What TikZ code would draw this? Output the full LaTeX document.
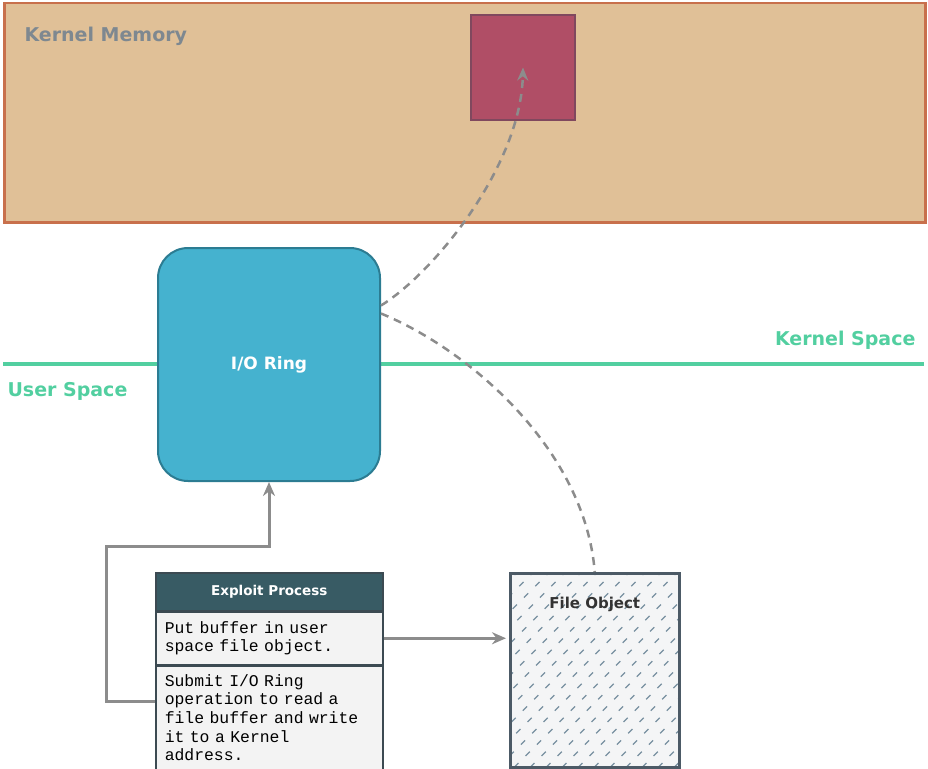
\documentclass[tikz,border=0pt]{standalone}
\usepackage{fontspec}
\setmainfont{DejaVu Sans}
\setmonofont{Liberation Mono}
\usetikzlibrary{arrows.meta,positioning}
\definecolor{memfill}{HTML}{E0C097}
\definecolor{memedge}{HTML}{C8704C}
\definecolor{memtext}{HTML}{7E8890}
\definecolor{addrfill}{HTML}{B04E66}
\definecolor{addredge}{HTML}{80485E}
\definecolor{spacegreen}{HTML}{52CFA0}
\definecolor{ringfill}{HTML}{45B2CF}
\definecolor{ringedge}{HTML}{2C7C92}
\definecolor{procfill}{HTML}{385B64}
\definecolor{cellfill}{HTML}{F3F3F3}
\definecolor{celledge}{HTML}{3C4A52}
\definecolor{objfill}{HTML}{F4F5F6}
\definecolor{objedge}{HTML}{4C5A66}
\definecolor{hatchcol}{HTML}{7890A0}
\definecolor{arrowgrey}{HTML}{8C8C8C}
\tikzset{region/.style={draw=memedge,fill=memfill,line width=2.5pt,inner sep=0pt,
        minimum width=921pt,minimum height=219pt},
        memlabel/.style={text=memtext,font=\bfseries\fontsize{19}{22}\selectfont},
        target/.style={draw=addredge,fill=addrfill,line width=2pt,inner sep=0pt,
        minimum width=104pt,minimum height=105pt},
        boundary/.style={draw=spacegreen,line width=4pt},
        spacelbl/.style={text=spacegreen,font=\bfseries\fontsize{19}{22}\selectfont},
        ring/.style={draw=ringedge,fill=ringfill,line width=2pt,rounded corners=30pt,
        minimum width=222pt,minimum height=233pt,text=white,
        font=\bfseries\fontsize{17}{20}\selectfont},
        header/.style={draw=celledge,fill=procfill,line width=1.5pt,minimum width=227pt,
        minimum height=38pt,text=white,font=\bfseries\fontsize{13.5}{16}\selectfont},
        cell/.style={draw=celledge,fill=cellfill,line width=1.5pt,inner xsep=9pt,
        text width=209pt,align=left,font=\ttfamily\fontsize{16.4}{18.7}\selectfont},
        fileobj/.style={draw=objedge,fill=objfill,line width=2.5pt,inner sep=0pt,
        minimum width=169pt,minimum height=194pt},
        hatch/.style={draw=hatchcol,line width=1.3pt,dash pattern=on 6pt off 10pt},
        filelbl/.style={text=black!80,font=\bfseries\fontsize{15}{18}\selectfont},
        flow/.style={draw=arrowgrey,line width=3pt,-{Stealth[length=14pt,width=12pt]}},
        leak/.style={draw=arrowgrey,line width=2.5pt,dash pattern=on 8pt off 6pt}}

\begin{document}
\begin{tikzpicture}[x=1pt,y=-1pt]
    \useasboundingbox (0,0) rectangle (928,768);
    % kernel memory
    \node[region,anchor=north west] (kmem) at (3,2) {};
    \node[memlabel,anchor=west] (kmemtxt) at (21,36) {Kernel Memory};
    \node[target,anchor=north west] (addr) at (470,14) {};
    % user / kernel boundary
    \coordinate (userend) at (3,364);
    \coordinate (kernend) at (924,364);
    \draw[boundary] (userend) -- (kernend);
    \node[spacelbl,anchor=east] (kspace) at (919,340) {Kernel Space};
    \node[spacelbl,anchor=west] (uspace) at (4,391) {User Space};
    \node[ring] (ioring) at (269,364.5) {I/O Ring};
    % exploit process
    \node[header,anchor=north west] (proc) at (155,572) {Exploit Process};
    \node[cell,minimum height=52pt,below=0pt of proc] (step1) {Put buffer in user\\space file object.};
    \node[cell,minimum height=104pt,below=0pt of step1] (step2)
        {Submit I/O Ring\\operation to read a\\file buffer and write\\it to a Kernel\\address.};
    % file object
    \node[fileobj,anchor=north west,path picture={
        \foreach \k in {0,...,26}
          \draw[hatch] ([xshift=\k*16pt-220pt]path picture bounding box.south west) -- ++(260,-260);
        }] (fobj) at (509,572) {};
    \node[filelbl,below=22pt of fobj.north] (fobjtxt) {File Object};
    % connectors
    \coordinate (bend) at (106,546);
    \draw[flow] ([yshift=16pt]step2.west) -| (bend) -| (ioring.south);
    \draw[flow,shorten >=3pt] (step1.east) -- (fobj.west |- step1.east);
    \draw[leak,-{Stealth[length=13pt,width=11pt]}] ([yshift=59pt]ioring.east)
        .. controls (435,272) and (521,165) .. (addr.center);
    \draw[leak] ([yshift=51pt]ioring.east)
        .. controls (470,350) and (585,450) .. (fobj.north);
\end{tikzpicture}
\end{document}
